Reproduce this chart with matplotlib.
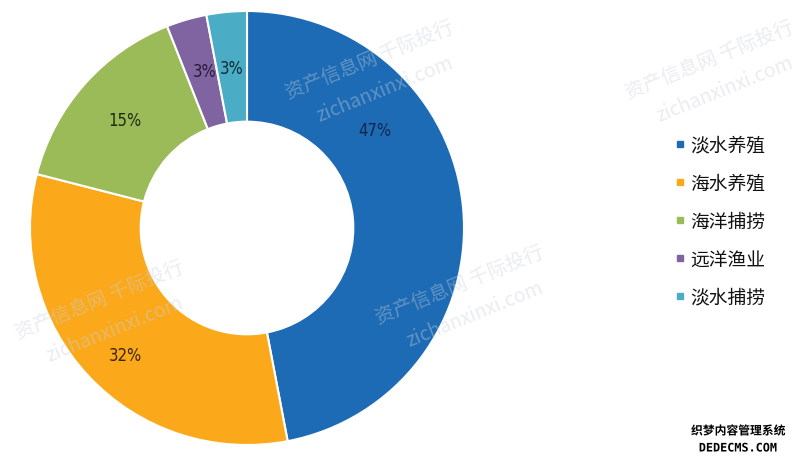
import matplotlib
matplotlib.use("Agg")
import matplotlib.pyplot as plt
import matplotlib.patheffects as pe
from matplotlib.lines import Line2D
import numpy as np

plt.rcParams['font.family'] = ['Noto Sans CJK SC', 'DejaVu Sans']

categories = ['淡水养殖', '海水养殖', '海洋捕捞', '远洋渔业', '淡水捕捞']
values = [47, 32, 15, 3, 3]
labels = ['47%', '32%', '15%', '3%', '3%']
colors = ['#1C6BB4', '#FBA91B', '#9BBB59', '#8064A2', '#4BACC6']
label_colors = ['#14264A', '#3A2508', '#1E2A10', '#2A1A3A', '#0E2A35']

W, H = 798, 460
fig = plt.figure(figsize=(W / 100, H / 100), dpi=100)
fig.patch.set_facecolor('white')

cx, cy, R = 247, 229, 217
ax = fig.add_axes([(cx - R) / W, (H - cy - R) / H, 2 * R / W, 2 * R / H])

wedges, _ = ax.pie(values, colors=colors, startangle=90, counterclock=False,
                   radius=1.0,
                   wedgeprops=dict(width=0.51, edgecolor='white', linewidth=1.5))
ax.set_xlim(-1, 1)
ax.set_ylim(-1, 1)
ax.set_aspect('equal')
ax.axis('off')

# data labels
total = float(sum(values))
cum = 0.0
label_r = [0.74, 0.81, 0.75, 0.75, 0.74]
angle_shift = [-32, -3, 0, 1, 0]  # label layout offset (degrees, clockwise from mid)
for v, lab, r, sh, lc in zip(values, labels, label_r, angle_shift, label_colors):
    mid = (cum + v / 2) / total * 360 + sh
    cum += v
    th = np.deg2rad(90 - mid)
    ax.text(r * np.cos(th), r * np.sin(th), lab, ha='center', va='center',
            fontsize=12, color=lc, family=['DejaVu Sans'], fontstretch='condensed')

# legend
handles = [Line2D([0], [0], marker='s', linestyle='none', markersize=5,
                  markerfacecolor=c, markeredgecolor=c) for c in colors]
leg = fig.legend(handles, categories, loc='center left', bbox_to_anchor=(666 / W, 1 - 222 / H),
                 frameon=False, fontsize=13.5, handlelength=0.5, handletextpad=0.3,
                 labelspacing=0.9, borderpad=0)
for t in leg.get_texts():
    t.set_color('#111111')

# faint watermarks
wm_kw = dict(color='#c8d0dc', alpha=0.4, rotation=22, ha='center', va='center', fontsize=14)
for (x, y) in [(370, 60), (710, 60), (100, 300), (460, 285)]:
    fig.text(x / W, 1 - y / H, '资产信息网 千际投行', **wm_kw)
    fig.text((x + 15) / W, 1 - (y + 30) / H, 'zichanxinxi.com', **wm_kw)

# bottom-right site mark
stroke = [pe.withStroke(linewidth=2, foreground='white')]
fig.text(738 / W, 1 - 432 / H, '织梦内容管理系统', ha='center', va='center',
         fontsize=8.5, color='black', weight='bold', path_effects=stroke)
fig.text(738 / W, 1 - 449 / H, 'DEDECMS.COM', ha='center', va='center',
         fontsize=8.5, color='black', weight='bold', family=['DejaVu Sans Mono'],
         path_effects=stroke)

fig.savefig('out.png', dpi=100, facecolor='white')
